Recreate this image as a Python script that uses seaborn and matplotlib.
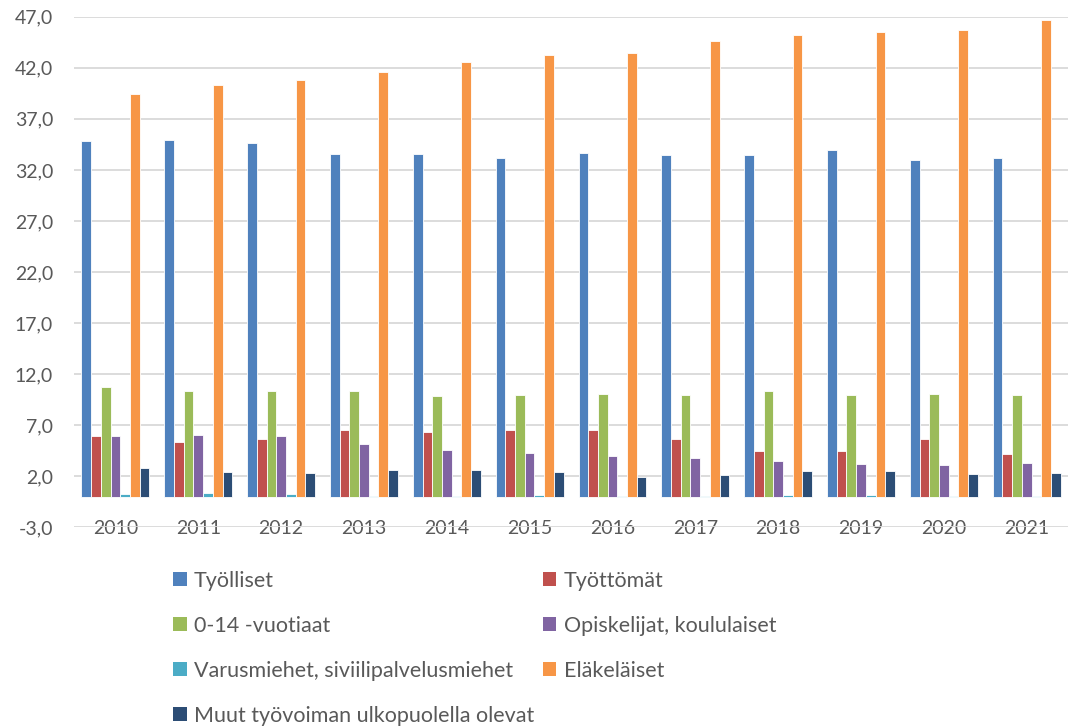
import pandas as pd
import matplotlib
matplotlib.use('Agg')
import matplotlib.pyplot as plt
from matplotlib.patches import Patch
from matplotlib.ticker import FuncFormatter
import seaborn as sns

# Data
years = ['2010', '2011', '2012', '2013', '2014', '2015',
         '2016', '2017', '2018', '2019', '2020', '2021']
tyolliset = [34.8, 34.9, 34.6, 33.6, 33.6, 33.2, 33.7, 33.5, 33.5, 33.9, 33.0, 33.2]
tyottomat = [5.9, 5.4, 5.6, 6.5, 6.3, 6.5, 6.5, 5.6, 4.5, 4.5, 5.6, 4.2]
vuotiaat = [10.7, 10.3, 10.3, 10.3, 9.9, 10.0, 10.1, 10.0, 10.3, 10.0, 10.1, 10.0]
opiskelijat = [5.9, 6.0, 5.9, 5.2, 4.6, 4.3, 4.0, 3.8, 3.5, 3.2, 3.1, 3.3]
varusmiehet = [0.27, 0.35, 0.27, 0.05, 0.1, 0.17, 0.03, 0.1, 0.17, 0.2, 0.1, 0.1]
elakelaiset = [39.4, 40.3, 40.8, 41.6, 42.6, 43.3, 43.4, 44.6, 45.2, 45.5, 45.7, 46.7]
muut = [2.8, 2.4, 2.3, 2.6, 2.6, 2.4, 1.9, 2.1, 2.5, 2.5, 2.2, 2.3]

series = ['Työlliset', 'Työttömät', '0-14 -vuotiaat', 'Opiskelijat, koululaiset',
          'Varusmiehet, siviilipalvelusmiehet', 'Eläkeläiset',
          'Muut työvoiman ulkopuolella olevat']
values = [tyolliset, tyottomat, vuotiaat, opiskelijat, varusmiehet, elakelaiset, muut]
colors = ['#4F81BD', '#C0504D', '#9BBB59', '#8064A2', '#4BACC6', '#F79646', '#2C4D75']

rows = []
for name, vals in zip(series, values):
    for y, v in zip(years, vals):
        rows.append({'vuosi': y, 'sarja': name, 'arvo': v})
df = pd.DataFrame(rows)

sns.set_theme(style='white')
plt.rcParams['font.family'] = ['Lato', 'DejaVu Sans']
text_col = '#595959'

fig = plt.figure(figsize=(10.69, 7.27), dpi=100)
ax = fig.add_axes([0.0692, 0.2747, 0.9300, 0.7023])

sns.barplot(data=df, x='vuosi', y='arvo', hue='sarja', hue_order=series,
            palette=colors, width=0.82, edgecolor='white', linewidth=0.6,
            saturation=1, legend=False, ax=ax, zorder=3)

ax.set_ylim(-3, 47)
ax.set_xlim(-0.5, len(years) - 0.5)
ax.set_yticks([-3 + 5 * i for i in range(11)])
ax.yaxis.set_major_formatter(FuncFormatter(lambda v, p: f'{v:.1f}'.replace('.', ',')))
ax.grid(axis='y', color='#d9d9d9', linewidth=1.3, zorder=0)
ax.set_axisbelow(True)
for s in ax.spines.values():
    s.set_visible(False)
ax.set_xlabel('')
ax.set_ylabel('')
ax.tick_params(axis='y', length=0, pad=15, labelsize=14, labelcolor=text_col)
ax.tick_params(axis='x', length=0, pad=-5.5, labelsize=14, labelcolor=text_col)

handles = [Patch(facecolor=c, edgecolor='none') for c in colors]
order = [0, 2, 4, 6, 1, 3, 5]
fig.legend([handles[i] for i in order], [series[i] for i in order],
           loc='upper left', bbox_to_anchor=(0.162, 0.215), ncol=2,
           frameon=False, fontsize=15.5, labelcolor=text_col,
           handlelength=0.62, handleheight=0.62, handletextpad=0.35,
           labelspacing=1.16, columnspacing=0.4, borderpad=0, borderaxespad=0)

fig.savefig('out.png', dpi=100)
